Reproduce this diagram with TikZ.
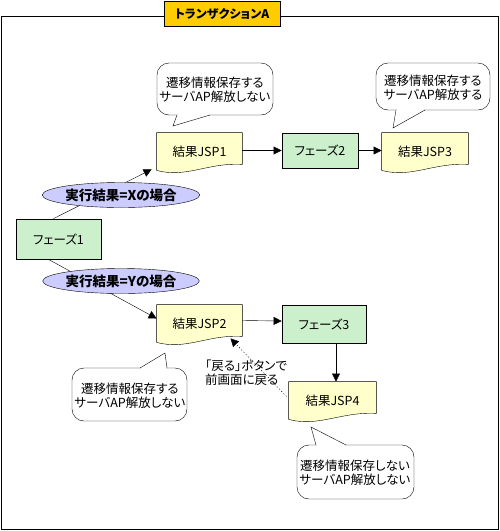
\documentclass[tikz,border=0pt]{standalone}
\usepackage{fontspec}
\setmainfont{Noto Sans CJK JP}[RawFeature=+palt]
\usetikzlibrary{arrows.meta,shapes.geometric,backgrounds}
\definecolor{phasegreen}{RGB}{204,240,204}
\definecolor{jspyellow}{RGB}{255,255,204}
\definecolor{elpurple}{RGB}{204,204,255}
\definecolor{titleorange}{RGB}{255,204,0}
\newcommand\docshape[1]{%
  \draw[docstyle] (#1.north west) -- (#1.north east) -- ([yshift=6pt]#1.south east)
    .. controls +(-35,-2) and +(30,8) .. (#1.south west) -- cycle;}
\newcommand\callout[9]{%
  \draw[bubble] (#1,#2) rectangle (#3,#4);
  \fill[white] (#5,#9) -- (#7,#8) -- (#6,#9) -- cycle;
  \fill[white] (#5+0.6,#9-1) rectangle (#6-0.6,#9+1);
  \draw[line join=miter] (#5,#9) -- (#7,#8) -- (#6,#9);}
\begin{document}
\begin{tikzpicture}[x=1pt,y=-1pt,line width=0.8pt,
  font=\fontsize{12.5}{14}\selectfont,
  phase/.style={draw,fill=phasegreen,inner sep=0pt},
  jsp/.style={inner sep=0pt},
  docstyle/.style={draw,fill=jspyellow},
  cond/.style={ellipse,draw,fill=elpurple,inner sep=0pt,minimum width=132pt,minimum height=25pt,font=\fontsize{13.5}{15}\selectfont\bfseries},
  bubble/.style={draw,fill=white,rounded corners=12pt},
  btext/.style={align=center,inner sep=0pt},
  arr/.style={-{Triangle[length=8pt,width=8pt]}}]
\useasboundingbox (0,0) rectangle (500,531);
\draw (1,16) rectangle (498,529);
\node[draw,fill=titleorange,minimum width=116pt,minimum height=25pt,inner sep=0pt,font=\fontsize{12}{13}\selectfont\bfseries] (title) at (222,13.5) {トランザクションA};
\node[phase,minimum width=85pt,minimum height=40pt] (ph1) at (58.5,239) {フェーズ1};
\node[phase,minimum width=76pt,minimum height=35pt] (ph2) at (320,150.5) {フェーズ2};
\node[phase,minimum width=84pt,minimum height=38pt] (ph3) at (324,324) {フェーズ3};
\node[jsp,minimum width=85pt,minimum height=37pt] (jsp1) at (199.5,151.5) {結果JSP1};
\node[jsp,minimum width=86pt,minimum height=37pt] (jsp3) at (425,151.5) {結果JSP3};
\node[jsp,minimum width=85pt,minimum height=37pt] (jsp2) at (199.5,323.5) {結果JSP2};
\node[jsp,minimum width=87pt,minimum height=37pt] (jsp4) at (332.5,400.5) {結果JSP4};
\begin{pgfonlayer}{background}
  \fill[white] (0,0) rectangle (500,531);
  \docshape{jsp1}
  \docshape{jsp3}
  \docshape{jsp2}
  \docshape{jsp4}
\end{pgfonlayer}
\draw[arr] ([xshift=-5pt]ph1.north) -- ([xshift=-5pt,yshift=1pt]jsp1.south west);
\draw[arr] ([xshift=-10pt]ph1.south) -- ([yshift=5pt]jsp2.west);
\draw[arr] (jsp1.east |- ph2.west) -- (ph2.west);
\draw[arr] (ph2.east) -- (ph2.east -| jsp3.west);
\draw[arr] ([yshift=3pt]jsp2.east) -- ([yshift=3pt]ph3.west);
\draw[arr] ([xshift=12pt]ph3.south) -- ([xshift=12pt]ph3.south |- jsp4.north);
\node[cond] (condx) at (121,195) {実行結果=Xの場合};
\node[cond] (condy) at (121,281) {実行結果=Yの場合};
\callout{157}{63}{273}{115}{177}{210}{173}{126}{115}
\callout{376}{63}{490}{110}{396}{425}{393}{128}{110}
\callout{72}{368}{187}{421}{140}{167}{165}{353}{368}
\callout{297}{445}{414}{499}{316}{346}{311}{427}{445}
\node[btext] (t1) at (215,90) {遷移情報保存する\\サーバAP解放しない};
\node[btext] (t2) at (433,88) {遷移情報保存する\\サーバAP解放する};
\node[btext] (t3) at (130,396) {遷移情報保存する\\サーバAP解放しない};
\node[btext] (t4) at (355,473) {遷移情報保存しない\\サーバAP解放しない};
\node[align=left,inner sep=0pt,anchor=west] (ret) at (205,373) {「戻る」ボタンで\\前画面に戻る};
\draw[arr,dash pattern=on 1.2pt off 2pt] ([xshift=-2pt,yshift=4pt]jsp4.west) -- ([xshift=31pt,yshift=4pt]jsp2.south);
\end{tikzpicture}
\end{document}
